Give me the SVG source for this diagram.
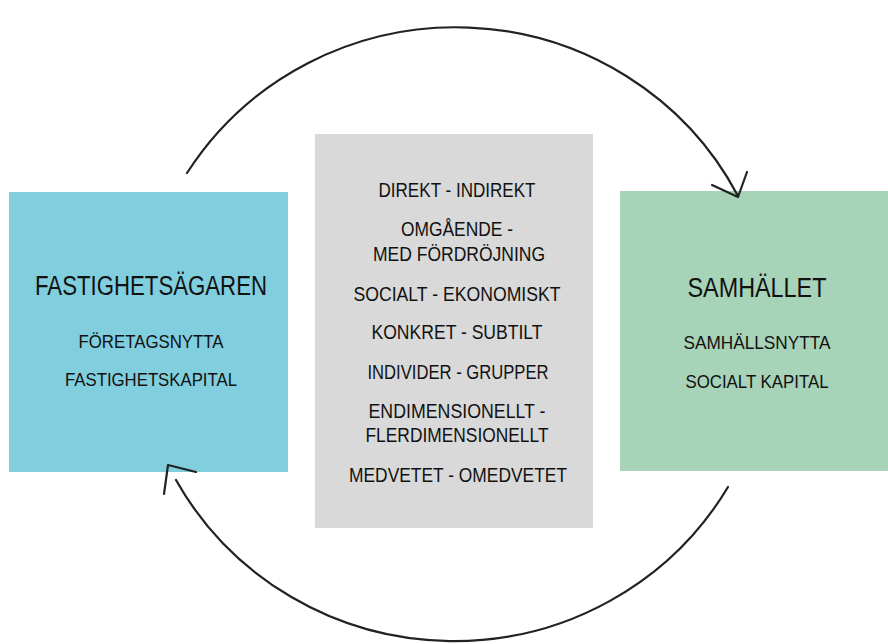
<svg xmlns="http://www.w3.org/2000/svg" width="888" height="644" viewBox="0 0 888 644">
<style>
.t{font-family:"Liberation Sans","DejaVu Sans",sans-serif;fill:#111;text-anchor:middle}
.h{font-size:27px}
.s{font-size:19px}
.c{font-size:20px}
.arc{fill:none;stroke:#222;stroke-width:2.2;stroke-linecap:round;stroke-linejoin:round}
</style>
<rect width="888" height="644" fill="#ffffff"/>
<g id="fastighetsagaren">
<rect x="9" y="192" width="279" height="280" fill="#80CEDE"/>
<text class="t h" x="151" y="295" textLength="232" lengthAdjust="spacingAndGlyphs">FASTIGHETSÄGAREN</text>
<text class="t s" x="151" y="348" textLength="145" lengthAdjust="spacingAndGlyphs">FÖRETAGSNYTTA</text>
<text class="t s" x="151" y="386" textLength="172" lengthAdjust="spacingAndGlyphs">FASTIGHETSKAPITAL</text>
</g>
<g id="samhallet">
<rect x="620" y="191" width="268" height="280" fill="#A7D3B8"/>
<text class="t h" x="757" y="297" textLength="139" lengthAdjust="spacingAndGlyphs">SAMHÄLLET</text>
<text class="t s" x="757" y="349" textLength="147" lengthAdjust="spacingAndGlyphs">SAMHÄLLSNYTTA</text>
<text class="t s" x="757" y="388" textLength="143" lengthAdjust="spacingAndGlyphs">SOCIALT KAPITAL</text>
</g>
<g id="aspekter">
<rect x="315" y="134" width="278" height="394" fill="#D9D9D9"/>
<text class="t c" x="457" y="197" textLength="157" lengthAdjust="spacingAndGlyphs">DIREKT - INDIREKT</text>
<text class="t c" x="457" y="236" textLength="112" lengthAdjust="spacingAndGlyphs">OMGÅENDE -</text>
<text class="t c" x="459" y="261" textLength="172" lengthAdjust="spacingAndGlyphs">MED FÖRDRÖJNING</text>
<text class="t c" x="457" y="301" textLength="207" lengthAdjust="spacingAndGlyphs">SOCIALT - EKONOMISKT</text>
<text class="t c" x="457" y="339" textLength="171" lengthAdjust="spacingAndGlyphs">KONKRET - SUBTILT</text>
<text class="t c" x="458" y="379" textLength="181" lengthAdjust="spacingAndGlyphs">INDIVIDER - GRUPPER</text>
<text class="t c" x="457" y="418" textLength="177" lengthAdjust="spacingAndGlyphs">ENDIMENSIONELLT -</text>
<text class="t c" x="457" y="442" textLength="183" lengthAdjust="spacingAndGlyphs">FLERDIMENSIONELLT</text>
<text class="t c" x="458" y="482" textLength="218" lengthAdjust="spacingAndGlyphs">MEDVETET - OMEDVETET</text>
</g>
<g id="connectors">
<path class="arc" d="M187,173 A318 313 0 0 1 738,196"/>
<path class="arc" d="M712,185 L738,197 L747,172"/>
<path class="arc" d="M728,487 A318 313 0 0 1 176,480"/>
<path class="arc" d="M164,494 L168,465 L196,472"/>
</g>
</svg>
